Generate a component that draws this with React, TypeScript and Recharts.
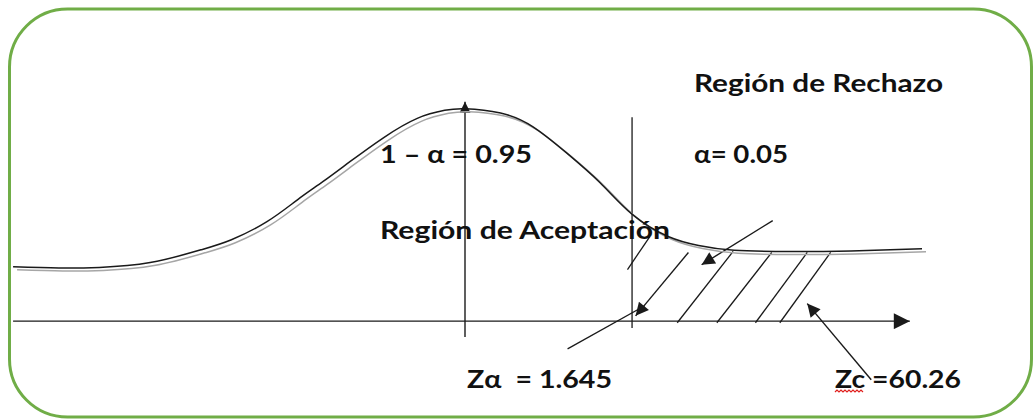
import React from 'react';
import { ComposedChart, Line, XAxis, YAxis, ReferenceLine } from 'recharts';

// bell curve as drawn (z on x, height above the axis on y)
const zPoints = [-4.45, -4.0, -3.6, -3.1, -2.6, -2.3, -1.95, -1.65, -1.4, -1.13, -0.8, -0.47, -0.2, 0, 0.35, 0.67, 1.0, 1.33, 1.65, 2.0, 2.3, 2.65, 3.2, 3.8, 4.5];
const heights = [0.102, 0.1, 0.101, 0.11, 0.134, 0.153, 0.187, 0.228, 0.262, 0.3, 0.345, 0.381, 0.396, 0.399, 0.391, 0.365, 0.316, 0.26, 0.2, 0.159, 0.142, 0.133, 0.131, 0.132, 0.136];

const zAlpha = 1.645;

// hatching of the rejection region: [z1, y1, z2, y2]
const hatchLines = [
  [2.09, -0.003, 2.64, 0.131],
  [2.48, -0.003, 3.02, 0.129],
  [2.86, -0.003, 3.37, 0.129],
  [3.1, -0.003, 3.6, 0.129],
  [1.6, 0.097, 1.82, 0.159],
  [1.01, -0.052, 1.77, 0.029],
];

// pointer arrows, head at the second point
const arrowLines = [
  [3.03, 0.189, 2.33, 0.106],
  [2.2, 0.129, 1.68, 0.01],
  [4.0, -0.11, 3.37, 0.033],
];

const labels = [
  { text: 'Región de Rechazo', x: 694, y: 92, w: 249 },
  { text: 'α= 0.05', x: 694, y: 163, w: 94 },
  { text: '1 – α = 0.95', x: 380, y: 163, w: 152 },
  { text: 'Región de Aceptación', x: 380, y: 239, w: 290 },
  { text: 'Zα\u00a0 = 1.645', x: 467, y: 388, w: 145 },
  { text: 'Zc =60.26', x: 835, y: 388, w: 126 },
];

const curveData = zPoints.map((z, i) => ({ z, d: heights[i] }));

const INK = '#1a1a1a';

const seg = (s: number[]) => [
  { x: s[0], y: s[1] },
  { x: s[2], y: s[3] },
];

const arrowShape = (marker: string) => (p: any) => (
  <line x1={p.x1} y1={p.y1} x2={p.x2} y2={p.y2} stroke={INK} strokeWidth={1.4} markerEnd={`url(#${marker})`} />
);

const plainShape = (p: any) => (
  <line x1={p.x1} y1={p.y1} x2={p.x2} y2={p.y2} stroke={INK} strokeWidth={1.3} />
);

const squiggle = () => {
  let d = 'M835 392';
  for (let i = 0; i < 7; i++) d += ' l2 -2 l2 2';
  return d;
};

export default function App() {
  return (
    <div style={{ position: 'absolute', left: 0, top: 0, width: 1033, height: 419, background: '#fff' }}>
      <style>{`.curve-shadow { transform: translate(4px, 3px); }`}</style>
      <svg width={0} height={0} style={{ position: 'absolute' }}>
        <defs>
          <marker id="head" viewBox="0 0 10 10" refX={10} refY={5} markerWidth={17} markerHeight={13} markerUnits="userSpaceOnUse" orient="auto">
            <path d="M0,0 L10,5 L0,10 z" fill={INK} />
          </marker>
          <marker id="axisHead" viewBox="0 0 10 10" refX={10} refY={5} markerWidth={18} markerHeight={16} markerUnits="userSpaceOnUse" orient="auto">
            <path d="M0,0 L10,5 L0,10 z" fill={INK} />
          </marker>
          <marker id="topHead" viewBox="0 0 10 10" refX={10} refY={5} markerWidth={12} markerHeight={11} markerUnits="userSpaceOnUse" orient="auto">
            <path d="M0,0 L10,5 L0,10 z" fill={INK} />
          </marker>
        </defs>
      </svg>
      <ComposedChart
        width={1033}
        height={419}
        data={curveData}
        margin={{ top: 55, right: 111, bottom: 18, left: 8 }}
        style={{ position: 'absolute', left: 0, top: 0 }}
      >
        <XAxis dataKey="z" type="number" domain={[-4.5, 4.5]} allowDataOverflow hide />
        <YAxis type="number" domain={[-0.15, 0.5]} allowDataOverflow hide />

        {/* horizontal axis */}
        <ReferenceLine segment={[{ x: -4.45, y: 0 }, { x: 4.38, y: 0 }]} shape={arrowShape('axisHead')} />
        {/* mean line with arrow */}
        <ReferenceLine segment={[{ x: 0, y: -0.03 }, { x: 0, y: 0.412 }]} shape={arrowShape('topHead')} />
        {/* critical value */}
        <ReferenceLine segment={[{ x: zAlpha, y: -0.013 }, { x: zAlpha, y: 0.383 }]} shape={plainShape} />

        {hatchLines.map((s, i) => (
          <ReferenceLine key={`h${i}`} segment={seg(s)} shape={plainShape} />
        ))}
        {arrowLines.map((s, i) => (
          <ReferenceLine key={`a${i}`} segment={seg(s)} shape={arrowShape('head')} />
        ))}

        <Line
          className="curve-shadow"
          type="natural"
          dataKey="d"
          stroke="#a6a6a6"
          strokeWidth={1.5}
          dot={false}
          activeDot={false}
          isAnimationActive={false}
        />
        <Line
          type="natural"
          dataKey="d"
          stroke={INK}
          strokeWidth={1.5}
          dot={false}
          activeDot={false}
          isAnimationActive={false}
        />
      </ComposedChart>

      <svg width={1033} height={419} style={{ position: 'absolute', left: 0, top: 0 }}>
        <rect x={9.5} y={9} width={1022} height={408} rx={58} ry={58} fill="none" stroke="#70ad47" strokeWidth={3} />
        {labels.map((l) => (
          <text
            key={l.text}
            x={l.x}
            y={l.y}
            textLength={l.w}
            lengthAdjust="spacingAndGlyphs"
            fontFamily="Lato, 'Open Sans', sans-serif"
            fontWeight={700}
            fontSize={25}
            fill="#111"
          >
            {l.text}
          </text>
        ))}
        <path d={squiggle()} fill="none" stroke="#e0201e" strokeWidth={1.2} />
      </svg>
    </div>
  );
}
